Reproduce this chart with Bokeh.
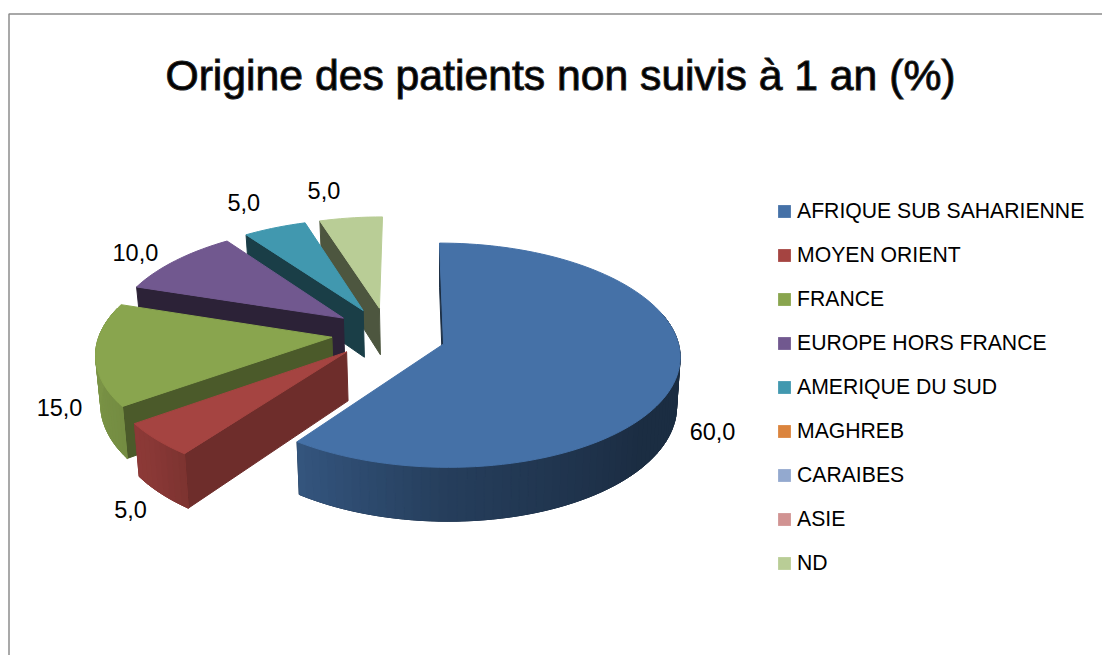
import numpy as np
from bokeh.plotting import figure
from bokeh.models import Range1d, Legend, LegendItem
from bokeh.core.properties import value
from bokeh.embed import file_html
from bokeh.resources import INLINE

title = "Origine des patients non suivis à 1 an (%)"
categories = ["AFRIQUE SUB SAHARIENNE", "MOYEN ORIENT", "FRANCE", "EUROPE HORS FRANCE",
              "AMERIQUE DU SUD", "MAGHREB", "CARAIBES", "ASIE", "ND"]
values = [60.0, 5.0, 15.0, 10.0, 5.0, 0.0, 0.0, 0.0, 5.0]
colors = ["#4571A7", "#A54441", "#89A54E", "#71588F", "#4198AF",
          "#DB843D", "#93A9CF", "#D19392", "#B9CD96"]

FONT = "Liberation Sans"
AX, AY = 443.0, 343.5     # apex of the first slice on the page
RX, RY, SKEW = 235.0, 111.0, 4.4
PERSP_FIRST, PERSP_REST = 0.10, 0.125
EXPLODE, DEPTH, SHRINK = 0.24, 48.5, 0.985
REST_DU, REST_DV = -0.012, -0.025   # slight extra gap between the first slice and the others


def project(u, v, persp):
    w = 1 - persp * v
    return AX + (RX * u + SKEW * v) / w, AY + RY * v / w


def project_bottom(u, v, persp):
    x, y = project(u, v, persp)
    return AX + (x - AX) * SHRINK, y + DEPTH / (1 - persp * v)


def shade(color, f):
    r, g, b = (int(color[i:i + 2], 16) for i in (1, 3, 5))
    return "#%02x%02x%02x" % (int(r * f), int(g * f), int(b * f))


def rim_shade(deg):
    return float(np.interp(deg, [0, 130, 180, 216, 228, 260, 360],
                           [.40, .40, .55, .76, .84, .90, .90]))


def wall_shade(deg):
    return float(np.interp(deg, [0, 216, 234, 288, 342], [.40, .67, .55, .39, .42]))


total = sum(values)
ends = np.cumsum(values) / total * 360
starts = ends - np.array(values) / total * 360
mids = (starts + ends) / 2
m0 = np.radians(mids[0])

slices = []
for i, val in enumerate(values):
    if val <= 0:
        continue
    m = np.radians(mids[i])
    slices.append(dict(i=i, s=starts[i], e=ends[i], m=mids[i],
                       persp=PERSP_REST if i else PERSP_FIRST,
                       ou=EXPLODE * (np.sin(m) - np.sin(m0)) + (REST_DU if i else 0),
                       ov=EXPLODE * (-np.cos(m) + np.cos(m0)) + (REST_DV if i else 0)))


def rim_uv(sl, deg, r=1.0):
    t = np.radians(deg)
    return sl["ou"] + r * np.sin(t), sl["ov"] - r * np.cos(t)


xs, ys, fills = [], [], []


def add(poly, fill):
    xs.append([float(q[0]) for q in poly])
    ys.append([float(q[1]) for q in poly])
    fills.append(fill)


for sl in reversed(slices):
    c = colors[sl["i"]]
    g = sl["persp"]
    apex = (sl["ou"], sl["ov"])
    # wall that faces the viewer
    rs = rim_uv(sl, sl["s"])
    add([project(*rs, g), project(*apex, g), project_bottom(*apex, g), project_bottom(*rs, g)],
        shade(c, wall_shade(sl["s"])))
    # outer rim: a solid base, then the gradient bands over it
    degs = np.arange(sl["s"], sl["e"] + 0.01, 2.0)
    if degs[-1] < sl["e"]:
        degs = np.append(degs, sl["e"])
    vis = [d for d in degs if np.cos(np.radians(d)) <= 0.3]
    add([project(*rim_uv(sl, d), g) for d in vis] + [project_bottom(*rim_uv(sl, d), g) for d in vis[::-1]],
        shade(c, rim_shade(sl["m"])))
    for d0, d1 in zip(vis[:-1], vis[1:]):
        a, b = rim_uv(sl, d0), rim_uv(sl, d1)
        add([project(*a, g), project(*b, g), project_bottom(*b, g), project_bottom(*a, g)],
            shade(c, rim_shade((d0 + d1) / 2)))
    # top face
    add([project(*apex, g)] + [project(*rim_uv(sl, d), g) for d in degs], c)

p = figure(width=1102, height=655, output_backend="svg", toolbar_location=None,
           x_range=Range1d(0, 1102), y_range=Range1d(655, 0),
           min_border=0, outline_line_color=None, background_fill_color="white",
           border_fill_color="white")
p.xaxis.visible = False
p.yaxis.visible = False
p.xgrid.visible = False
p.ygrid.visible = False

# chart frame
p.line([8.5, 8.5, 1102], [655, 13.5, 13.5], line_color="#8c8c8c", line_width=1.5)

p.patches(xs, ys, fill_color=fills, line_color=fills, line_width=1.0)

# title
p.text([560], [74], text=[title], text_font=value(FONT), text_font_size="42.7px",
       text_align="center", text_baseline="middle", text_color="#000000",
       text_outline_color="#222222")

# data labels: rim middle of each slice plus an outward shift
label_shift = {0: (37, 52), 1: (-26, 70), 2: (-36, 53), 3: (-40, -8), 4: (-31, -25), 8: (-27, -27)}
lx, ly, lt = [], [], []
for sl in slices:
    x, y = project(*rim_uv(sl, sl["m"]), sl["persp"])
    dx, dy = label_shift[sl["i"]]
    lx.append(x + dx)
    ly.append(y + dy)
    lt.append(f"{values[sl['i']]:.1f}".replace(".", ","))
p.text(lx, ly, text=lt, text_font=value(FONT), text_font_size="23.5px",
       text_align="center", text_baseline="middle", text_color="#000000")

# legend (the swatches come from off-canvas marks, since three categories have no slice)
items = []
for name, col in zip(categories, colors):
    r = p.rect(x=[-100], y=[-100], width=1, height=1, fill_color=col, line_color=None)
    items.append(LegendItem(label=name, renderers=[r]))
legend = Legend(items=items, location=(776, 80), orientation="vertical",
                glyph_width=16, glyph_height=16, label_height=20, spacing=20,
                label_text_font=FONT, label_text_font_size="21.2px", label_text_color="#000000",
                label_standoff=5, padding=0, margin=0, background_fill_alpha=0, border_line_color=None)
p.add_layout(legend, "center")

open("out.html", "w").write(file_html(p, INLINE))
